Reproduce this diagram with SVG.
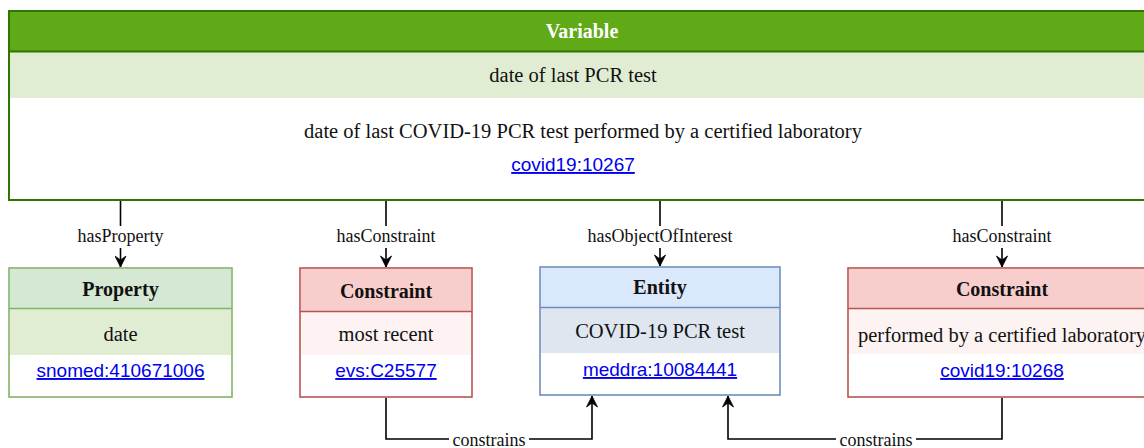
<svg xmlns="http://www.w3.org/2000/svg" width="1144" height="448" viewBox="0 0 1144 448">
<style>
.t{font-family:"Liberation Serif","Times New Roman",serif;fill:#111;text-anchor:middle}
.h{font-size:20px;font-weight:bold}
.r{font-size:20.5px}
.lbl{font-family:"Liberation Serif","Times New Roman",serif;font-size:18px;fill:#111;text-anchor:middle}
.lk{font-family:"Liberation Sans",Arial,sans-serif;font-size:19px;fill:#0000ee;text-anchor:middle;text-decoration:underline}
.edge{fill:none;stroke:#000;stroke-width:1.6}
</style>
<defs>
<marker id="arr" markerWidth="13" markerHeight="12" viewBox="-12 -6 13 12" refX="0" refY="0" orient="auto" markerUnits="userSpaceOnUse">
<path d="M0,0 L-11,-5.5 L-7,0 L-11,5.5 Z" fill="#000" stroke="#000" stroke-width="0.8" stroke-linejoin="miter"/>
</marker>
</defs>
<rect width="1144" height="448" fill="#fff"/>

<g id="variable">
<rect x="9" y="11" width="1147" height="189" fill="#fff" stroke="#2d7600" stroke-width="2"/>
<rect x="10" y="12" width="1145" height="39" fill="#60a917"/>
<rect x="10" y="52" width="1145" height="46" fill="#e0edd3"/>
<line x1="9" y1="51.5" x2="1156" y2="51.5" stroke="#2d7600" stroke-width="2"/>
<text class="t h" x="582" y="38" style="fill:#fff">Variable</text>
<text class="t r" x="573" y="82">date of last PCR test</text>
<text class="t r" x="583" y="138">date of last COVID-19 PCR test performed by a certified laboratory</text>
<text class="lk" x="573" y="171">covid19:10267</text>
</g>

<g id="property">
<rect x="9" y="268" width="223" height="129" fill="#fff" stroke="#82b366" stroke-width="1.6"/>
<rect x="10" y="269" width="221" height="39" fill="#d5e8d4"/>
<rect x="10" y="309" width="221" height="46" fill="#e0edd3"/>
<line x1="9" y1="308.5" x2="232" y2="308.5" stroke="#82b366" stroke-width="1.6"/>
<text class="t h" x="120.5" y="296">Property</text>
<text class="t r" x="120.5" y="341">date</text>
<text class="lk" x="120.5" y="377">snomed:410671006</text>
</g>

<g id="constraint1">
<rect x="300" y="268" width="172" height="129" fill="#fff" stroke="#b85450" stroke-width="1.6"/>
<rect x="301" y="269" width="170" height="42" fill="#f8cecc"/>
<rect x="301" y="312" width="170" height="43" fill="#fcf3f2"/>
<line x1="300" y1="311.5" x2="472" y2="311.5" stroke="#b85450" stroke-width="1.6"/>
<text class="t h" x="386" y="298">Constraint</text>
<text class="t r" x="386" y="341">most recent</text>
<text class="lk" x="386" y="377">evs:C25577</text>
</g>

<g id="entity">
<rect x="540" y="267" width="240" height="128" fill="#fff" stroke="#6c8ebf" stroke-width="1.6"/>
<rect x="541" y="268" width="238" height="39" fill="#dae8fc"/>
<rect x="541" y="308" width="238" height="45" fill="#dfe6ef"/>
<line x1="540" y1="307.5" x2="780" y2="307.5" stroke="#6c8ebf" stroke-width="1.6"/>
<text class="t h" x="660" y="294">Entity</text>
<text class="t r" x="660" y="338">COVID-19 PCR test</text>
<text class="lk" x="660" y="376">meddra:10084441</text>
</g>

<g id="constraint2">
<rect x="848" y="268" width="308" height="129" fill="#fff" stroke="#b85450" stroke-width="1.6"/>
<rect x="849" y="269" width="306" height="39" fill="#f8cecc"/>
<rect x="849" y="309" width="306" height="45" fill="#fcf3f2"/>
<line x1="848" y1="308.5" x2="1156" y2="308.5" stroke="#b85450" stroke-width="1.6"/>
<text class="t h" x="1002" y="296">Constraint</text>
<text class="t r" x="1002" y="342">performed by a certified laboratory</text>
<text class="lk" x="1002" y="377">covid19:10268</text>
</g>

<g id="connectors">
<path class="edge" d="M120.5,201 L120.5,267" marker-end="url(#arr)"/>
<path class="edge" d="M386,201 L386,267" marker-end="url(#arr)"/>
<path class="edge" d="M660,201 L660,266" marker-end="url(#arr)"/>
<path class="edge" d="M1002,201 L1002,267" marker-end="url(#arr)"/>
<path class="edge" d="M386,398 L386,439 L592,439 L592,396" marker-end="url(#arr)"/>
<path class="edge" d="M1002,398 L1002,439 L728,439 L728,396" marker-end="url(#arr)"/>
<g>
<rect x="74" y="226" width="93" height="22" fill="#fff"/>
<text class="lbl" x="120.5" y="242">hasProperty</text>
<rect x="332" y="226" width="108" height="22" fill="#fff"/>
<text class="lbl" x="386" y="242">hasConstraint</text>
<rect x="583" y="226" width="154" height="22" fill="#fff"/>
<text class="lbl" x="660" y="242">hasObjectOfInterest</text>
<rect x="948" y="226" width="108" height="22" fill="#fff"/>
<text class="lbl" x="1002" y="242">hasConstraint</text>
<rect x="449" y="431" width="80" height="17" fill="#fff"/>
<text class="lbl" x="489" y="446">constrains</text>
<rect x="836" y="431" width="80" height="17" fill="#fff"/>
<text class="lbl" x="876" y="446">constrains</text>
</g>
</g>
</svg>
